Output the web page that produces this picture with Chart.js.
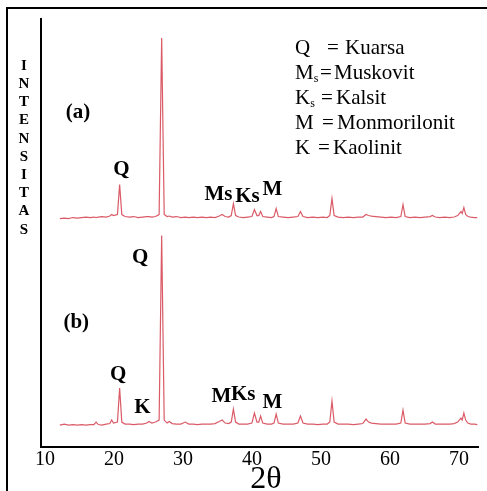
<!DOCTYPE html>
<html>
<head>
<meta charset="utf-8">
<script src="https://cdn.jsdelivr.net/npm/chart.js@4.4.1/dist/chart.umd.min.js"></script>
<style>
    html, body { margin: 0; padding: 0; background: #fff; }
    #chart { display: block; }
</style>
</head>
<body>
<canvas id="chart" width="487" height="491"></canvas>
<script>
// XRD patterns (a) and (b): 2-theta in degrees, intensity in arbitrary units
const twoTheta = [
    12.6, 13.2, 13.8, 14.4, 15.0, 15.6, 16.2, 16.8, 17.3, 17.6,
    17.9, 18.4, 19.0, 19.5, 19.75, 20.0, 20.55, 20.85, 21.15, 21.6,
    22.2, 22.8, 23.4, 24.0, 24.6, 24.9, 25.3, 25.8, 26.3, 26.65,
    27.0, 27.4, 27.7, 28.1, 28.7, 29.3, 29.9, 30.4, 31.0, 31.6,
    32.2, 32.8, 33.4, 34.0, 34.6, 35.0, 35.4, 35.9, 36.25, 36.55,
    36.85, 37.3, 37.9, 38.5, 39.1, 39.45, 39.8, 40.05, 40.3, 40.6,
    41.2, 41.8, 42.15, 42.45, 42.75, 43.4, 44.1, 44.8, 45.45, 45.8,
    46.15, 46.8, 47.5, 48.2, 48.9, 49.5, 49.85, 50.15, 50.45, 51.0,
    51.7, 52.4, 53.1, 53.8, 54.4, 54.85, 55.2, 55.6, 56.2, 56.9,
    57.6, 58.3, 59.0, 59.65, 59.95, 60.25, 60.9, 61.6, 62.3, 63.0,
    63.7, 64.0, 64.4, 65.0, 65.7, 66.4, 67.0, 67.5, 67.95, 68.12,
    68.35, 68.6, 68.9, 69.3, 69.8, 70.2
];
const intensityA = [
    0, 0.5, 0, 1, 0.5, 1, 1.5, 1, 1.5, 1,
    1.5, 2, 1.5, 2.5, 4, 3, 4, 34, 4, 2,
    1.5, 2, 1, 1.5, 2, 2, 1.5, 2, 4, 181,
    4, 2, 2.5, 1.5, 2, 1, 1.5, 1, 1.5, 1,
    1.5, 1, 1.5, 1, 2.5, 4, 2, 1.5, 3, 15,
    3, 1.5, 1, 1.5, 2, 9, 3, 3, 7, 2,
    1.5, 1, 2, 10, 2, 1.5, 1, 1.5, 2, 7,
    2, 1, 1.5, 1, 1.5, 1, 3, 20, 3, 1.5,
    1, 1.5, 1, 1.5, 1.5, 4, 3, 2.5, 2, 1.5,
    1, 1.5, 1, 2, 14, 2, 1, 1.5, 1, 1.5,
    2, 3, 1.5, 1, 1.5, 1, 1.5, 3, 7, 5,
    11, 4, 2, 1.5, 1, 1
];
const intensityB = [
    0, 1, 0, 0.5, 0, 0.5, 0, 0.5, 0.5, 3,
    0.5, 0, 1, 1.5, 5, 2, 3, 37, 3, 1,
    1, 0.5, 1, 1, 2, 3.5, 2, 3, 5, 190,
    5, 2, 3.5, 1.5, 1, 1, 3, 1, 1, 0.5,
    1, 1, 1, 1.5, 3.5, 5, 2, 1.5, 3, 16,
    3, 1, 1, 1, 2, 12, 3, 3, 9, 2,
    1, 1, 2, 11, 2, 1, 1, 1, 2, 9,
    2, 1, 1, 0.5, 1, 1, 3, 24, 3, 1,
    1, 1, 0.5, 1, 1.5, 6, 3, 2, 1.5, 1,
    1, 1, 1, 2, 15, 2, 1, 1, 1, 1,
    1.5, 3, 1, 1, 1, 1, 1.5, 3, 7, 5,
    12, 5, 2, 1, 1, 0.5
];
// vertical stacking offsets of the two patterns
const offsetA = 229;
const offsetB = 22;

const xTickLabels = [10, 20, 30, 40, 50, 60, 70];

const legendSymbols = ['Q', 'M', 'K', 'M', 'K'];
const legendSubscripts = ['', 's', 's', '', ''];
const legendNames = ['Kuarsa', 'Muskovit', 'Kalsit', 'Monmorilonit', 'Kaolinit'];

const serif = 'Liberation Serif';
const lineColor = 'rgba(212, 62, 76, 0.85)';

Chart.defaults.font.family = serif;

// peak labels, placed in data coordinates
const peakLabels = [
    { text: '(a)', x: 15.1, y: 335 },
    { text: 'Q', x: 21.08, y: 278 },
    { text: 'Ms', x: 34.48, y: 253 },
    { text: 'Ks', x: 38.48, y: 251 },
    { text: 'M', x: 41.93, y: 258 },
    { text: 'Q', x: 23.7, y: 190 },
    { text: '(b)', x: 14.86, y: 125 },
    { text: 'Q', x: 20.66, y: 73 },
    { text: 'K', x: 23.98, y: 40 },
    { text: 'M', x: 34.9, y: 51 },
    { text: 'Ks', x: 37.9, y: 53 },
    { text: 'M', x: 41.93, y: 45 }
];

const figureText = {
    id: 'figureText',
    beforeDraw(chart) {
        const ctx = chart.ctx;
        ctx.save();
        ctx.strokeStyle = '#000';
        ctx.lineWidth = 2;
        ctx.beginPath();
        ctx.moveTo(7, chart.height);
        ctx.lineTo(7, 8);
        ctx.lineTo(chart.width, 8);
        ctx.stroke();
        ctx.restore();
    },
    afterDraw(chart) {
        const { ctx, chartArea, scales: { x, y } } = chart;
        ctx.save();
        ctx.fillStyle = '#000';
        ctx.textAlign = 'center';
        ctx.textBaseline = 'middle';

        ctx.font = `bold 21px "${serif}"`;
        peakLabels.forEach(l => {
            ctx.fillText(l.text, x.getPixelForValue(l.x), y.getPixelForValue(l.y));
        });

        // stacked y title
        ctx.font = `bold 15px "${serif}"`;
        'INTENSITAS'.split('').forEach((ch, i) => {
            ctx.fillText(ch, chartArea.left - 17, 66 + i * 18.2);
        });

        // legend block
        const eqX = [327, 320, 321, 322, 318];
        const nameX = [345, 334, 336, 337, 333];
        ctx.textAlign = 'left';
        legendSymbols.forEach((sym, i) => {
            const rowY = 48 + i * 25;
            ctx.font = `21px "${serif}"`;
            ctx.fillText(sym, 295, rowY);
            ctx.fillText('=', eqX[i], rowY);
            ctx.fillText(legendNames[i], nameX[i], rowY);
            if (legendSubscripts[i]) {
                const w = ctx.measureText(sym).width;
                ctx.font = `12px "${serif}"`;
                ctx.fillText(legendSubscripts[i], 295 + w, rowY + 6);
            }
        });

        // x title
        ctx.textAlign = 'center';
        ctx.textBaseline = 'alphabetic';
        ctx.font = `32px "${serif}"`;
        ctx.fillText('2θ', 266, 488);
        ctx.restore();
    }
};

const makeSeries = (values, offset) => twoTheta.map((t, i) => ({ x: t, y: values[i] + offset }));

new Chart(document.getElementById('chart').getContext('2d'), {
    type: 'line',
    data: {
        datasets: [
            {
                label: '(a)',
                data: makeSeries(intensityA, offsetA),
                borderColor: lineColor,
                borderWidth: 1.2,
                pointRadius: 0,
                tension: 0,
                fill: false
            },
            {
                label: '(b)',
                data: makeSeries(intensityB, offsetB),
                borderColor: lineColor,
                borderWidth: 1.2,
                pointRadius: 0,
                tension: 0,
                fill: false
            }
        ]
    },
    options: {
        responsive: false,
        animation: false,
        devicePixelRatio: 1,
        layout: { padding: { left: 41, top: 19, right: 9, bottom: 18 } },
        plugins: {
            legend: { display: false },
            tooltip: { enabled: false }
        },
        scales: {
            x: {
                type: 'linear',
                min: 10,
                max: 70.3,
                display: false
            },
            // the printed tick labels of the figure sit on their own spacing
            xl: {
                type: 'linear',
                position: 'bottom',
                min: 9.42,
                max: 72.75,
                grid: { display: false, drawTicks: false },
                border: { display: true, color: '#000', width: 2 },
                afterBuildTicks: axis => {
                    axis.ticks = xTickLabels.map(v => ({ value: v }));
                },
                ticks: {
                    padding: 1,
                    color: '#000',
                    font: { family: serif, size: 20 },
                    maxRotation: 0
                }
            },
            y: {
                type: 'linear',
                min: 0,
                max: 429,
                grid: { display: false, drawTicks: false },
                border: { display: true, color: '#000', width: 2 },
                ticks: { display: false }
            }
        }
    },
    plugins: [figureText]
});
</script>
</body>
</html>
